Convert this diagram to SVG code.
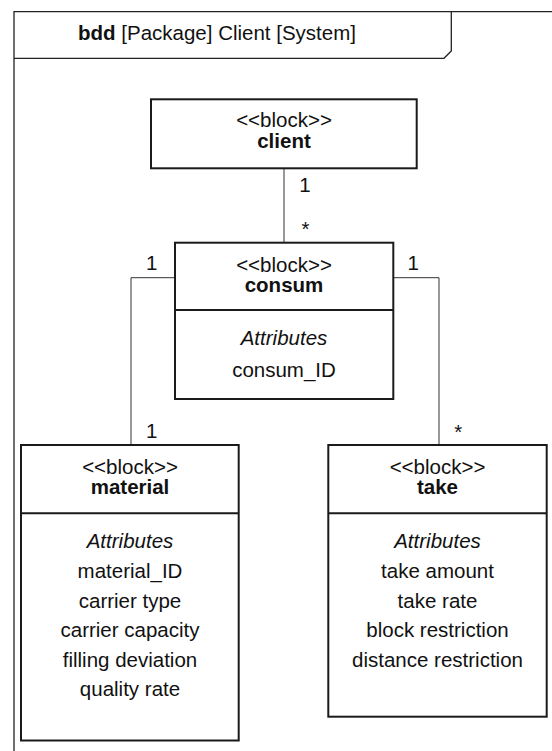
<svg xmlns="http://www.w3.org/2000/svg" width="552" height="751" viewBox="0 0 552 751">
<style>
text{font-family:"Liberation Sans",Arial,sans-serif;font-size:20.5px;fill:#111;text-anchor:middle}
.b{font-weight:bold}
.i{font-style:italic}
.box{fill:#fff;stroke:#1a1a1a;stroke-width:2}
.div{stroke:#1a1a1a;stroke-width:2}
.frame{fill:none;stroke:#222;stroke-width:1.3}
.conn{fill:none;stroke:#333;stroke-width:1}
</style>
<rect width="552" height="751" fill="#fff"/>
<g id="frame">
<path class="frame" d="M14,751 V11.7 H552"/>
<path class="frame" d="M14,58.3 H444 L451.3,51 V11.7"/>
<text x="78" y="40" style="text-anchor:start"><tspan class="b">bdd</tspan> [Package] Client [System]</text>
</g>
<g id="connectors">
<path class="conn" d="M284,168.5 V242.5"/>
<path class="conn" d="M175,277.7 H131 V445"/>
<path class="conn" d="M393.3,277.7 H439 V445"/>
<text x="305" y="191.7">1</text>
<text x="305.5" y="236">*</text>
<text x="151.7" y="270">1</text>
<text x="413.3" y="270">1</text>
<text x="151.7" y="438">1</text>
<text x="458.3" y="439">*</text>
</g>
<g id="client">
<rect class="box" x="151" y="99.3" width="265.7" height="69"/>
<text x="284" y="126.7">&lt;&lt;block&gt;&gt;</text>
<text class="b" x="284" y="148.3">client</text>
</g>
<g id="consum">
<rect class="box" x="175" y="242.7" width="218.3" height="156.3"/>
<line class="div" x1="175" y1="310" x2="393.3" y2="310"/>
<text x="284" y="271.7">&lt;&lt;block&gt;&gt;</text>
<text class="b" x="284" y="291.7">consum</text>
<text class="i" x="284" y="345">Attributes</text>
<text x="284" y="376.7">consum_ID</text>
</g>
<g id="material">
<rect class="box" x="21" y="445" width="217.7" height="295.5"/>
<line class="div" x1="21" y1="513.3" x2="238.7" y2="513.3"/>
<text x="130" y="473.5">&lt;&lt;block&gt;&gt;</text>
<text class="b" x="130" y="494">material</text>
<text class="i" x="130" y="548">Attributes</text>
<text x="130" y="578">material_ID</text>
<text x="130" y="607.5">carrier type</text>
<text x="130" y="637">carrier capacity</text>
<text x="130" y="667">filling deviation</text>
<text x="130" y="696">quality rate</text>
</g>
<g id="take">
<rect class="box" x="328.3" y="445" width="218.4" height="271.7"/>
<line class="div" x1="328.3" y1="513.3" x2="546.7" y2="513.3"/>
<text x="437.5" y="473.5">&lt;&lt;block&gt;&gt;</text>
<text class="b" x="437.5" y="494">take</text>
<text class="i" x="437.5" y="548">Attributes</text>
<text x="437.5" y="578">take amount</text>
<text x="437.5" y="607.5">take rate</text>
<text x="437.5" y="637">block restriction</text>
<text x="437.5" y="667">distance restriction</text>
</g>
</svg>
